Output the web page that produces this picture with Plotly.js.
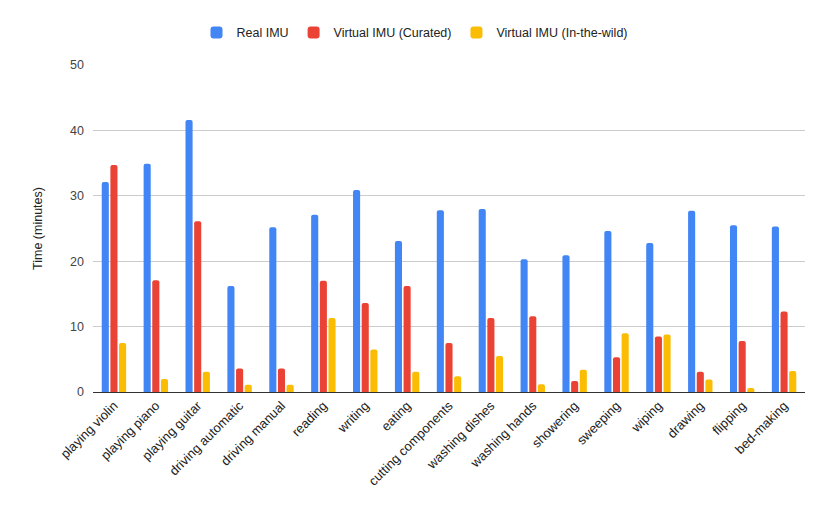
<!DOCTYPE html>
<html>
<head>
<meta charset="utf-8">
<script src="https://cdn.plot.ly/plotly-3.0.1.min.js"></script>
<style>
  html, body { margin: 0; padding: 0; background: #fff; }
  #chart { width: 830px; height: 514px; }
</style>
</head>
<body>
<div id="chart"></div>
<script>
const activities = ['playing violin', 'playing piano', 'playing guitar', 'driving automatic',
    'driving manual', 'reading', 'writing', 'eating', 'cutting components', 'washing dishes',
    'washing hands', 'showering', 'sweeping', 'wiping', 'drawing', 'flipping', 'bed-making'];

const realIMU = [32.1, 34.9, 41.6, 16.2, 25.2, 27.1, 30.9, 23.1, 27.8, 28.0, 20.3, 20.9, 24.6, 22.8, 27.7, 25.5, 25.3];
const virtualCurated = [34.7, 17.1, 26.1, 3.6, 3.6, 17.0, 13.6, 16.2, 7.5, 11.3, 11.6, 1.7, 5.3, 8.5, 3.1, 7.8, 12.3];
const virtualWild = [7.5, 2.0, 3.1, 1.1, 1.1, 11.3, 6.5, 3.1, 2.4, 5.5, 1.2, 3.4, 9.0, 8.8, 1.9, 0.6, 3.2];

const seriesNames = ['Real IMU', 'Virtual IMU (Curated)', 'Virtual IMU (In-the-wild)'];
const seriesColors = ['#4285F4', '#EA4335', '#FBBC04'];

let traces = [realIMU, virtualCurated, virtualWild].map(function (vals, i) {
    return {
        x: activities,
        y: vals,
        name: seriesNames[i],
        type: 'bar',
        marker: { color: seriesColors[i], cornerradius: 2 },
        hoverinfo: 'x+y+name'
    };
});

let layout = {
    width: 830,
    height: 514,
    margin: { l: 93, r: 25, t: 65, b: 122 },
    paper_bgcolor: '#fff',
    plot_bgcolor: '#fff',
    font: { family: 'Arial, "Liberation Sans", sans-serif', size: 12, color: '#222' },
    barmode: 'group',
    bargap: 0.38,
    bargroupgap: 0.18,
    showlegend: true,
    legend: {
        orientation: 'h',
        xref: 'container',
        yref: 'container',
        x: 0.5, xanchor: 'center',
        y: 0.936, yanchor: 'middle',
        font: { size: 12.5, color: '#222' }
    },
    xaxis: {
        tickangle: -45,
        tickfont: { size: 13, color: '#222' },
        showgrid: false,
        showline: true,
        linecolor: '#333',
        linewidth: 1,
        ticks: ''
    },
    yaxis: {
        range: [0, 50],
        dtick: 10,
        gridcolor: '#ccc',
        zeroline: false,
        ticks: '',
        ticklabelstandoff: 8,
        tickfont: { size: 12.5, color: '#444' },
        title: { text: 'Time (minutes)', font: { size: 12.5, color: '#222' }, standoff: 24 }
    }
};

Plotly.newPlot('chart', traces, layout, { displayModeBar: false, staticPlot: true });
</script>
</body>
</html>
